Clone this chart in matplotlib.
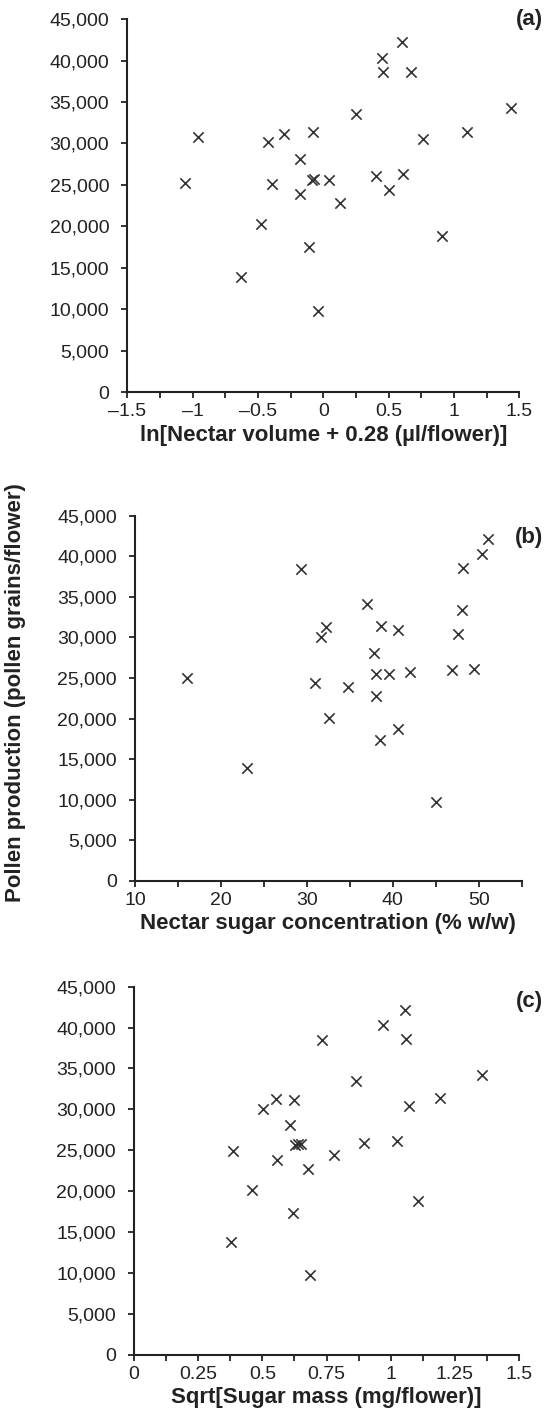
"""
    Pollen production vs nectar traits, three stacked scatter panels (a)-(c)
"""
import numpy as np
import matplotlib
matplotlib.use("Agg")
from matplotlib import pyplot as plt
from matplotlib.ticker import FixedLocator, FuncFormatter

plt.rcParams['font.family'] = ['Liberation Sans', 'DejaVu Sans']

# (a) ln[Nectar volume + 0.28]
nectar_volume_ln = [-1.06, -0.96, -0.63, -0.48, -0.42, -0.39, -0.30, -0.18, -0.18, -0.11,
                    -0.09, -0.07, -0.08, -0.04, 0.04, 0.13, 0.25, 0.40, 0.45, 0.46,
                    0.50, 0.60, 0.61, 0.67, 0.76, 0.91, 1.10, 1.44]
pollen_a = [25240, 30750, 13900, 20250, 30140, 25080, 31110, 28130, 23910, 17480,
            25640, 25680, 31350, 9850, 25560, 22790, 33520, 26080, 40270, 38580,
            24440, 42200, 26320, 38580, 30500, 18850, 31390, 34240]

# (b) nectar sugar concentration (% w/w)
sugar_conc = [16.1, 23.0, 29.3, 30.9, 31.6, 32.2, 32.6, 34.8, 37.0, 37.8,
              38.0, 38.1, 38.5, 38.6, 39.6, 40.6, 40.6, 42.0, 45.0, 46.9,
              47.6, 48.1, 48.2, 49.5, 50.4, 51.1]
pollen_b = [24960, 13920, 38420, 24430, 30050, 31320, 20120, 23850, 34150, 28040,
            22740, 25490, 17320, 31400, 25490, 30950, 18760, 25700, 9770, 26030,
            30420, 33420, 38550, 26110, 40310, 42080]

# (c) sqrt[sugar mass (mg/flower)]
sugar_mass_sqrt = [0.378, 0.384, 0.461, 0.503, 0.555, 0.558, 0.606, 0.621, 0.623, 0.628,
                   0.640, 0.651, 0.677, 0.686, 0.732, 0.779, 0.865, 0.897, 0.970, 1.025,
                   1.056, 1.060, 1.073, 1.108, 1.194, 1.355]
pollen_c = [13810, 24900, 20090, 30030, 31300, 23840, 28040, 17320, 31090, 25630,
            25750, 25750, 22700, 9700, 38470, 24410, 33420, 25920, 40260, 26120,
            42100, 38550, 30400, 18750, 31380, 34150]

y_ticks = np.arange(0, 45001, 5000)

panels = [
    dict(x=nectar_volume_ln, y=pollen_a, rect=[0.2327, 0.7243, 0.7166, 0.2623],
         xlim=(-1.5, 1.5), major=[-1.5, -1, -0.5, 0, 0.5, 1, 1.5],
         minor=np.arange(-1.5, 1.51, 0.25),
         xlabel="ln[Nectar volume + 0.28 (µl/flower)]", tag="(a)", tag_y=1 - 19 / 1423),
    dict(x=sugar_conc, y=pollen_b, rect=[0.2468, 0.3809, 0.7069, 0.2567],
         xlim=(10, 55), major=[10, 20, 30, 40, 50],
         minor=np.arange(10, 55.1, 5),
         xlabel="Nectar sugar concentration (% w/w)", tag="(b)", tag_y=1 - 538 / 1423),
    dict(x=sugar_mass_sqrt, y=pollen_c, rect=[0.2450, 0.0480, 0.7038, 0.2586],
         xlim=(0, 1.5), major=[0, 0.25, 0.5, 0.75, 1, 1.25, 1.5],
         minor=np.arange(0, 1.51, 0.125),
         xlabel="Sqrt[Sugar mass (mg/flower)]", tag="(c)", tag_y=1 - 1002 / 1423),
]


def fmt_x(v, pos):
    s = "%g" % v
    return s.replace("-", "\u2013")


fig = plt.figure(figsize=(5.47, 14.23), dpi=100)
ink = "#222222"

for p in panels:
    ax = fig.add_axes(p['rect'])
    ax.scatter(p['x'], p['y'], marker='x', s=55, color="#333333", linewidths=1.2, zorder=3)
    ax.set_xlim(*p['xlim'])
    ax.set_ylim(0, 45000)
    ax.spines['top'].set_visible(False)
    ax.spines['right'].set_visible(False)
    for side in ('left', 'bottom'):
        ax.spines[side].set_linewidth(1.5)
        ax.spines[side].set_color(ink)
    ax.xaxis.set_major_locator(FixedLocator(p['major']))
    ax.xaxis.set_minor_locator(FixedLocator(p['minor']))
    ax.xaxis.set_major_formatter(FuncFormatter(fmt_x))
    ax.yaxis.set_major_locator(FixedLocator(y_ticks))
    ax.yaxis.set_major_formatter(FuncFormatter(lambda v, pos: "{:,.0f}".format(v)))
    ax.tick_params(which='both', direction='out', length=4, width=1.3, color=ink,
                   labelsize=14, labelcolor=ink)
    ax.tick_params(axis='x', pad=4)
    ax.tick_params(axis='y', pad=9)
    ax.set_xlabel(p['xlabel'], fontsize=16, fontweight='bold', color=ink, labelpad=3)
    fig.text(0.993, p['tag_y'], p['tag'], ha='right', va='center',
             fontsize=16, fontweight='bold', color=ink)

fig.text(16 / 547, 1 - 693 / 1423, "Pollen production (pollen grains/flower)",
         rotation=90, ha='center', va='center', fontsize=16, fontweight='bold', color=ink)

fig.savefig("out.png", dpi=100)
